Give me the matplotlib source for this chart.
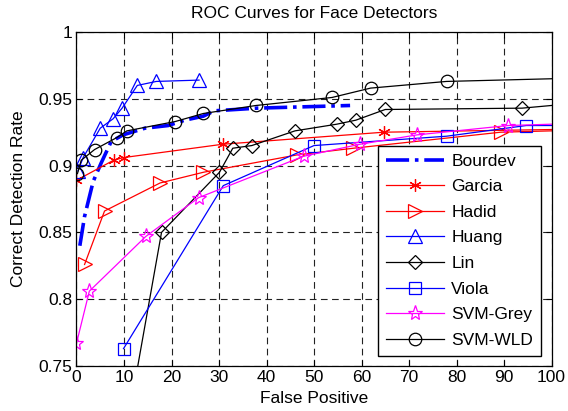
import matplotlib
matplotlib.use("Agg")
import matplotlib.pyplot as plt

plt.rcParams['font.family'] = ['Liberation Sans', 'DejaVu Sans']

title = "ROC Curves for Face Detectors"
xlabel = "False Positive"
ylabel = "Correct Detection Rate"
xticks = [0, 10, 20, 30, 40, 50, 60, 70, 80, 90, 100]
yticks = [0.75, 0.8, 0.85, 0.9, 0.95, 1.0]
ytick_labels = ["0.75", "0.8", "0.85", "0.9", "0.95", "1"]

bourdev_x = [0.7, 1.7, 3.5, 5.2, 7.3, 9.8, 14.4, 19.3, 22.8, 26.7, 29.0, 38.0, 57.6]
bourdev_y = [0.840, 0.862, 0.888, 0.902, 0.918, 0.923, 0.928, 0.930, 0.934, 0.937, 0.941, 0.943, 0.945]

garcia_x = [0.0, 7.8, 9.9, 30.8, 64.7, 100.0]
garcia_y = [0.889, 0.904, 0.906, 0.916, 0.925, 0.927]

hadid_x = [1.7, 5.9, 17.6, 26.7, 46.4, 58.3, 89.3, 100.0]
hadid_y = [0.826, 0.866, 0.887, 0.895, 0.908, 0.913, 0.925, 0.926]

huang_x = [0.3, 1.4, 5.0, 7.7, 9.6, 12.8, 16.8, 25.8]
huang_y = [0.896, 0.906, 0.928, 0.935, 0.943, 0.960, 0.963, 0.964]

lin_x = [10.4, 17.9, 30.1, 32.9, 36.9, 46.0, 54.8, 58.8, 65.0, 93.8, 100.0]
lin_y = [0.700, 0.850, 0.895, 0.913, 0.915, 0.926, 0.931, 0.934, 0.942, 0.943, 0.945]

viola_x = [9.9, 30.9, 50.0, 77.9, 94.7, 100.0]
viola_y = [0.763, 0.885, 0.915, 0.922, 0.930, 0.930]

svmgrey_x = [0.0, 2.7, 14.6, 25.7, 47.8, 59.7, 71.7, 90.9, 100.0]
svmgrey_y = [0.767, 0.806, 0.847, 0.876, 0.907, 0.916, 0.923, 0.930, 0.931]

svmwld_x = [0.2, 1.0, 3.8, 8.5, 10.6, 20.8, 26.7, 37.8, 53.8, 61.9, 77.9, 100.0]
svmwld_y = [0.894, 0.904, 0.912, 0.921, 0.926, 0.933, 0.939, 0.945, 0.951, 0.958, 0.963, 0.965]

fig = plt.figure(figsize=(5.68, 4.11), dpi=100)
ax = fig.add_axes([76.5/568, 1-366/411, (551.5-76.5)/568, (366-32)/411])

fs = 12.5
lw = 0.9
ms = 9

def markers_idx(xs):
    # markers on all given points except final edge-extension point at x=100
    return [i for i, v in enumerate(xs) if v < 100]

asterisk = (6, 2, 0)

ax.plot(bourdev_x, bourdev_y, color='#0000ff', linestyle='-.', linewidth=2.6, label='Bourdev')
ax.plot(garcia_x, garcia_y, color='#ff0000', linewidth=lw, marker=asterisk, markersize=ms,
        markerfacecolor='none', markeredgewidth=0.9, markevery=markers_idx(garcia_x), label='Garcia')
ax.plot(hadid_x, hadid_y, color='#ff0000', linewidth=lw, marker='>', markersize=ms+1,
        markerfacecolor='none', markeredgewidth=0.9, markevery=markers_idx(hadid_x), label='Hadid')
ax.plot(huang_x, huang_y, color='#0000ff', linewidth=lw, marker='^', markersize=ms+1,
        markerfacecolor='none', markeredgewidth=0.9, label='Huang')
ax.plot(lin_x, lin_y, color='#000000', linewidth=lw, marker='D', markersize=ms-1.5,
        markerfacecolor='none', markeredgewidth=0.9, markevery=markers_idx(lin_x), label='Lin')
ax.plot(viola_x, viola_y, color='#0000ff', linewidth=lw, marker='s', markersize=ms,
        markerfacecolor='none', markeredgewidth=0.9, markevery=markers_idx(viola_x), label='Viola')
ax.plot(svmgrey_x, svmgrey_y, color='#ff00ff', linewidth=lw, marker='*', markersize=ms+2,
        markerfacecolor='none', markeredgewidth=0.9, markevery=markers_idx(svmgrey_x), label='SVM-Grey')
ax.plot(svmwld_x, svmwld_y, color='#000000', linewidth=lw, marker='o', markersize=ms,
        markerfacecolor='none', markeredgewidth=0.9, markevery=markers_idx(svmwld_x), label='SVM-WLD')

ax.set_xlim(0, 100)
ax.set_ylim(0.75, 1.0)
ax.set_xticks(xticks)
ax.set_xticklabels([str(t) for t in xticks])
ax.set_yticks(yticks)
ax.set_yticklabels(ytick_labels)
ax.tick_params(direction='in', top=True, right=True, labelsize=fs, length=4, width=0.8, pad=3)
ax.grid(True, color='#222222', linestyle=(0, (6, 4)), linewidth=0.8)
for s in ax.spines.values():
    s.set_linewidth(0.9)

ax.set_title(title, fontsize=fs, pad=10)
ax.set_xlabel(xlabel, fontsize=fs, labelpad=4)
ax.set_ylabel(ylabel, fontsize=fs, labelpad=9)

leg = ax.legend(loc='lower right', fontsize=fs, handlelength=3.3, frameon=True, fancybox=False,
                edgecolor='black', framealpha=1, borderpad=0.45, labelspacing=0.6,
                handletextpad=0.45, borderaxespad=0.6)
leg.get_frame().set_linewidth(1.0)

fig.savefig("out.png", dpi=100)
